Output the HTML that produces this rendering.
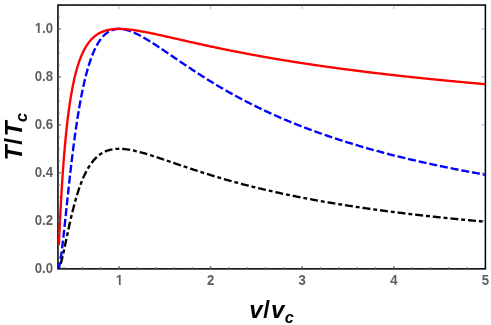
<!DOCTYPE html>
<html><head><meta charset="utf-8"><title>T/Tc vs v/vc</title>
<style>
html,body{margin:0;padding:0;background:#fff;}
body{width:491px;height:325px;overflow:hidden;}
svg{display:block;will-change:transform;}
text{font-family:"Liberation Sans",sans-serif;}
.tl text{font-size:14px;font-weight:bold;fill:#5e5e5e;stroke:#5e5e5e;stroke-width:0px;}
.al text{font-weight:bold;font-style:italic;fill:#000;}
</style></head>
<body>
<svg width="491" height="325" viewBox="0 0 491 325">
<rect x="0" y="0" width="491" height="325" fill="#ffffff"/>
<defs><clipPath id="c1y"><rect x="-20.462" y="-14.000" width="9.680" height="11.672"/><rect x="-16.200" y="-2.528" width="1.932" height="3.328"/><rect x="-10.782" y="-14.000" width="12.782" height="18.000"/></clipPath><clipPath id="c1x"><rect x="-4.893" y="-14.000" width="9.680" height="11.672"/><rect x="-0.631" y="-2.528" width="1.932" height="3.328"/></clipPath><clipPath id="plot"><rect x="57.90" y="4.65" width="427.10" height="263.92"/></clipPath></defs>
<rect x="57.95" y="5.05" width="427.45" height="263.82" fill="none" stroke="#000000" stroke-width="1.52"/>
<g clip-path="url(#plot)" fill="none" stroke-width="2.35" stroke-linejoin="round">
<path d="M57.93 268.73 L58.74 268.20 L59.27 267.35 L59.70 266.44 L60.06 265.51 L60.39 264.57 L60.70 263.61 L60.98 262.65 L61.26 261.69 L61.52 260.72 L61.77 259.75 L62.02 258.78 L62.26 257.81 L62.49 256.83 L62.72 255.86 L62.95 254.88 L63.17 253.91 L63.39 252.93 L63.61 251.95 L63.82 250.97 L64.04 249.99 L64.25 249.02 L64.46 248.04 L64.67 247.06 L64.88 246.08 L65.08 245.10 L65.29 244.12 L65.50 243.14 L65.71 242.16 L65.91 241.18 L66.12 240.20 L66.32 239.22 L66.53 238.23 L66.74 237.25 L66.94 236.27 L67.15 235.29 L67.36 234.31 L67.56 233.33 L67.77 232.35 L67.98 231.37 L68.19 230.40 L68.40 229.42 L68.62 228.44 L68.83 227.46 L69.04 226.48 L69.26 225.50 L69.47 224.52 L69.69 223.55 L69.91 222.57 L70.13 221.59 L70.35 220.61 L70.58 219.64 L70.80 218.66 L71.03 217.69 L71.26 216.71 L71.49 215.73 L71.72 214.76 L71.95 213.79 L72.19 212.81 L72.43 211.84 L72.67 210.87 L72.91 209.90 L73.16 208.92 L73.41 207.95 L73.66 206.98 L73.91 206.02 L74.17 205.05 L74.43 204.08 L74.69 203.11 L74.95 202.15 L75.22 201.18 L75.49 200.22 L75.77 199.25 L76.05 198.29 L76.33 197.33 L76.61 196.37 L76.90 195.41 L77.20 194.45 L77.49 193.50 L77.80 192.54 L78.10 191.59 L78.42 190.64 L78.73 189.68 L79.05 188.74 L79.38 187.79 L79.71 186.84 L80.05 185.90 L80.39 184.96 L80.74 184.02 L81.09 183.08 L81.46 182.15 L81.83 181.22 L82.20 180.29 L82.58 179.36 L82.97 178.44 L83.37 177.52 L83.78 176.61 L84.19 175.69 L84.62 174.79 L85.05 173.88 L85.49 172.98 L85.94 172.09 L86.41 171.20 L86.88 170.32 L87.37 169.44 L87.86 168.57 L88.37 167.71 L88.89 166.86 L89.43 166.01 L89.98 165.17 L90.54 164.34 L91.12 163.52 L91.71 162.72 L92.32 161.92 L92.95 161.14 L93.59 160.37 L94.25 159.62 L94.93 158.88 L95.63 158.16 L96.35 157.46 L97.08 156.78 L97.84 156.12 L98.61 155.49 L99.40 154.88 L100.21 154.29 L101.04 153.73 L101.89 153.20 L102.76 152.70 L103.64 152.22 L104.54 151.78 L105.46 151.37 L106.38 150.99 L107.32 150.65 L108.27 150.33 L109.24 150.05 L110.21 149.80 L111.18 149.58 L112.17 149.39 L113.16 149.23 L114.15 149.10 L115.14 148.99 L116.14 148.91 L117.14 148.86 L118.14 148.83 L119.15 148.82 L120.15 148.83 L121.15 148.87 L122.15 148.92 L123.15 148.99 L124.15 149.08 L125.14 149.18 L126.14 149.30 L127.13 149.44 L128.12 149.58 L129.11 149.74 L130.10 149.91 L131.08 150.09 L132.07 150.28 L133.05 150.48 L134.03 150.69 L135.01 150.91 L135.98 151.14 L136.96 151.37 L137.93 151.61 L138.90 151.86 L139.87 152.11 L140.84 152.37 L141.80 152.63 L142.77 152.90 L143.73 153.17 L144.69 153.45 L145.65 153.73 L146.61 154.02 L147.57 154.31 L148.53 154.60 L149.49 154.90 L150.45 155.20 L151.40 155.50 L152.36 155.80 L153.31 156.11 L154.26 156.41 L155.22 156.72 L156.17 157.04 L157.12 157.35 L158.07 157.66 L159.02 157.98 L159.97 158.30 L160.92 158.61 L161.87 158.93 L162.82 159.25 L163.77 159.57 L164.72 159.90 L165.67 160.22 L166.61 160.54 L167.56 160.86 L168.51 161.19 L169.46 161.51 L170.41 161.84 L171.35 162.16 L172.30 162.48 L173.25 162.81 L174.20 163.13 L175.15 163.45 L176.09 163.78 L177.04 164.10 L177.99 164.42 L178.94 164.75 L179.89 165.07 L180.84 165.39 L181.79 165.71 L182.73 166.03 L183.68 166.35 L184.63 166.67 L185.58 166.99 L186.53 167.31 L187.48 167.63 L188.43 167.94 L189.38 168.26 L190.33 168.58 L191.29 168.89 L192.24 169.20 L193.19 169.52 L194.14 169.83 L195.09 170.14 L196.05 170.45 L197.00 170.76 L197.95 171.07 L198.90 171.37 L199.86 171.68 L200.81 171.99 L201.77 172.29 L202.72 172.59 L203.68 172.90 L204.63 173.20 L205.59 173.50 L206.54 173.80 L207.50 174.09 L208.46 174.39 L209.41 174.69 L210.37 174.98 L211.33 175.28 L212.29 175.57 L213.25 175.86 L214.20 176.15 L215.16 176.44 L216.12 176.73 L217.08 177.01 L218.04 177.30 L219.00 177.58 L219.96 177.87 L220.93 178.15 L221.89 178.43 L222.85 178.71 L223.81 178.99 L224.77 179.26 L225.74 179.54 L226.70 179.81 L227.66 180.09 L228.63 180.36 L229.59 180.63 L230.56 180.90 L231.52 181.17 L232.49 181.44 L233.45 181.71 L234.42 181.97 L235.39 182.24 L236.35 182.50 L237.32 182.76 L238.29 183.02 L239.25 183.28 L240.22 183.54 L241.19 183.80 L242.16 184.05 L243.13 184.31 L244.10 184.56 L245.07 184.81 L246.04 185.06 L247.01 185.31 L247.98 185.56 L248.95 185.81 L249.92 186.06 L250.89 186.30 L251.86 186.55 L252.83 186.79 L253.80 187.03 L254.78 187.27 L255.75 187.51 L256.72 187.75 L257.70 187.99 L258.67 188.22 L259.64 188.46 L260.62 188.69 L261.59 188.93 L262.57 189.16 L263.54 189.39 L264.52 189.62 L265.49 189.85 L266.47 190.08 L267.44 190.30 L268.42 190.53 L269.39 190.75 L270.37 190.98 L271.35 191.20 L272.32 191.42 L273.30 191.64 L274.28 191.86 L275.26 192.08 L276.24 192.29 L277.21 192.51 L278.19 192.72 L279.17 192.94 L280.15 193.15 L281.13 193.36 L282.11 193.57 L283.09 193.78 L284.07 193.99 L285.05 194.20 L286.03 194.41 L287.01 194.61 L287.99 194.82 L288.97 195.02 L289.95 195.22 L290.93 195.42 L291.91 195.63 L292.89 195.83 L293.88 196.02 L294.86 196.22 L295.84 196.42 L296.82 196.62 L297.81 196.81 L298.79 197.01 L299.77 197.20 L300.75 197.39 L301.74 197.58 L302.72 197.77 L303.70 197.96 L304.69 198.15 L305.67 198.34 L306.66 198.53 L307.64 198.71 L308.62 198.90 L309.61 199.08 L310.59 199.27 L311.58 199.45 L312.56 199.63 L313.55 199.81 L314.54 199.99 L315.52 200.17 L316.51 200.35 L317.49 200.53 L318.48 200.71 L319.46 200.88 L320.45 201.06 L321.44 201.23 L322.42 201.40 L323.41 201.58 L324.40 201.75 L325.38 201.92 L326.37 202.09 L327.36 202.26 L328.35 202.43 L329.33 202.60 L330.32 202.76 L331.31 202.93 L332.30 203.10 L333.29 203.26 L334.27 203.43 L335.26 203.59 L336.25 203.75 L337.24 203.91 L338.23 204.08 L339.22 204.24 L340.21 204.40 L341.19 204.55 L342.18 204.71 L343.17 204.87 L344.16 205.03 L345.15 205.18 L346.14 205.34 L347.13 205.49 L348.12 205.65 L349.11 205.80 L350.10 205.95 L351.09 206.11 L352.08 206.26 L353.07 206.41 L354.06 206.56 L355.05 206.71 L356.04 206.86 L357.03 207.00 L358.03 207.15 L359.02 207.30 L360.01 207.44 L361.00 207.59 L361.99 207.73 L362.98 207.88 L363.97 208.02 L364.96 208.16 L365.96 208.31 L366.95 208.45 L367.94 208.59 L368.93 208.73 L369.92 208.87 L370.91 209.01 L371.91 209.15 L372.90 209.29 L373.89 209.42 L374.88 209.56 L375.88 209.70 L376.87 209.83 L377.86 209.97 L378.85 210.10 L379.85 210.23 L380.84 210.37 L381.83 210.50 L382.83 210.63 L383.82 210.76 L384.81 210.89 L385.81 211.02 L386.80 211.15 L387.79 211.28 L388.79 211.41 L389.78 211.54 L390.77 211.67 L391.77 211.80 L392.76 211.92 L393.75 212.05 L394.75 212.17 L395.74 212.30 L396.74 212.42 L397.73 212.55 L398.72 212.67 L399.72 212.79 L400.71 212.92 L401.71 213.04 L402.70 213.16 L403.70 213.28 L404.69 213.40 L405.68 213.52 L406.68 213.64 L407.67 213.76 L408.67 213.88 L409.66 214.00 L410.66 214.11 L411.65 214.23 L412.65 214.35 L413.64 214.46 L414.64 214.58 L415.63 214.69 L416.63 214.81 L417.62 214.92 L418.62 215.04 L419.61 215.15 L420.61 215.26 L421.60 215.37 L422.60 215.49 L423.60 215.60 L424.59 215.71 L425.59 215.82 L426.58 215.93 L427.58 216.04 L428.57 216.15 L429.57 216.26 L430.57 216.37 L431.56 216.47 L432.56 216.58 L433.55 216.69 L434.55 216.79 L435.55 216.90 L436.54 217.01 L437.54 217.11 L438.53 217.22 L439.53 217.32 L440.53 217.43 L441.52 217.53 L442.52 217.63 L443.52 217.74 L444.51 217.84 L445.51 217.94 L446.51 218.04 L447.50 218.14 L448.50 218.24 L449.50 218.35 L450.49 218.45 L451.49 218.55 L452.49 218.64 L453.48 218.74 L454.48 218.84 L455.48 218.94 L456.47 219.04 L457.47 219.14 L458.47 219.23 L459.46 219.33 L460.46 219.43 L461.46 219.52 L462.46 219.62 L463.45 219.71 L464.45 219.81 L465.45 219.90 L466.45 220.00 L467.44 220.09 L468.44 220.19 L469.44 220.28 L470.43 220.37 L471.43 220.46 L472.43 220.56 L473.43 220.65 L474.42 220.74 L475.42 220.83 L476.42 220.92 L477.42 221.01 L478.42 221.10 L479.41 221.19 L480.41 221.28 L481.41 221.37 L482.41 221.46 L483.40 221.55 L484.40 221.64 L485.40 221.73" stroke="#000000" stroke-linecap="square" stroke-dasharray="1.55 5.285 5.585 5.285" stroke-dashoffset="0"/>
<path d="M57.93 268.73 L58.59 268.03 L58.95 267.09 L59.23 266.13 L59.47 265.16 L59.69 264.18 L59.89 263.19 L60.08 262.21 L60.25 261.22 L60.42 260.23 L60.58 259.24 L60.73 258.25 L60.88 257.25 L61.03 256.26 L61.17 255.27 L61.31 254.27 L61.44 253.28 L61.57 252.28 L61.70 251.29 L61.83 250.29 L61.96 249.30 L62.08 248.30 L62.21 247.31 L62.33 246.31 L62.45 245.31 L62.57 244.32 L62.68 243.32 L62.80 242.32 L62.91 241.33 L63.03 240.33 L63.14 239.33 L63.25 238.34 L63.37 237.34 L63.48 236.34 L63.59 235.34 L63.70 234.35 L63.81 233.35 L63.92 232.35 L64.03 231.35 L64.13 230.36 L64.24 229.36 L64.35 228.36 L64.46 227.36 L64.56 226.36 L64.67 225.37 L64.78 224.37 L64.88 223.37 L64.99 222.37 L65.09 221.38 L65.20 220.38 L65.31 219.38 L65.41 218.38 L65.52 217.38 L65.62 216.39 L65.73 215.39 L65.83 214.39 L65.94 213.39 L66.04 212.39 L66.15 211.40 L66.25 210.40 L66.35 209.40 L66.46 208.40 L66.56 207.40 L66.67 206.40 L66.77 205.41 L66.88 204.41 L66.99 203.41 L67.09 202.41 L67.20 201.41 L67.30 200.42 L67.41 199.42 L67.51 198.42 L67.62 197.42 L67.73 196.43 L67.83 195.43 L67.94 194.43 L68.05 193.43 L68.15 192.43 L68.26 191.44 L68.37 190.44 L68.48 189.44 L68.58 188.44 L68.69 187.45 L68.80 186.45 L68.91 185.45 L69.02 184.45 L69.13 183.45 L69.24 182.46 L69.35 181.46 L69.46 180.46 L69.57 179.47 L69.68 178.47 L69.79 177.47 L69.90 176.47 L70.02 175.48 L70.13 174.48 L70.24 173.48 L70.35 172.48 L70.47 171.49 L70.58 170.49 L70.70 169.49 L70.81 168.50 L70.93 167.50 L71.04 166.50 L71.16 165.51 L71.28 164.51 L71.40 163.51 L71.51 162.52 L71.63 161.52 L71.75 160.52 L71.87 159.53 L71.99 158.53 L72.11 157.53 L72.23 156.54 L72.36 155.54 L72.48 154.55 L72.60 153.55 L72.73 152.55 L72.85 151.56 L72.98 150.56 L73.10 149.57 L73.23 148.57 L73.36 147.58 L73.48 146.58 L73.61 145.59 L73.74 144.59 L73.87 143.60 L74.00 142.60 L74.13 141.61 L74.27 140.61 L74.40 139.62 L74.53 138.62 L74.67 137.63 L74.81 136.63 L74.94 135.64 L75.08 134.64 L75.22 133.65 L75.36 132.66 L75.50 131.66 L75.64 130.67 L75.78 129.68 L75.92 128.68 L76.07 127.69 L76.21 126.70 L76.36 125.70 L76.51 124.71 L76.66 123.72 L76.81 122.73 L76.96 121.73 L77.11 120.74 L77.26 119.75 L77.42 118.76 L77.57 117.77 L77.73 116.78 L77.89 115.79 L78.05 114.80 L78.21 113.80 L78.37 112.81 L78.53 111.82 L78.70 110.83 L78.87 109.84 L79.03 108.86 L79.20 107.87 L79.37 106.88 L79.55 105.89 L79.72 104.90 L79.90 103.91 L80.07 102.92 L80.25 101.94 L80.43 100.95 L80.62 99.96 L80.80 98.98 L80.99 97.99 L81.18 97.01 L81.37 96.02 L81.56 95.04 L81.76 94.05 L81.95 93.07 L82.15 92.08 L82.35 91.10 L82.56 90.12 L82.76 89.14 L82.97 88.15 L83.18 87.17 L83.40 86.19 L83.61 85.21 L83.83 84.23 L84.06 83.25 L84.28 82.28 L84.51 81.30 L84.74 80.32 L84.97 79.35 L85.21 78.37 L85.45 77.40 L85.70 76.42 L85.94 75.45 L86.19 74.48 L86.45 73.51 L86.71 72.54 L86.97 71.57 L87.24 70.60 L87.51 69.64 L87.79 68.67 L88.07 67.71 L88.35 66.75 L88.64 65.79 L88.94 64.83 L89.24 63.87 L89.55 62.92 L89.86 61.96 L90.18 61.01 L90.50 60.06 L90.83 59.11 L91.17 58.17 L91.52 57.23 L91.87 56.29 L92.23 55.35 L92.60 54.42 L92.98 53.49 L93.36 52.56 L93.76 51.64 L94.16 50.72 L94.57 49.80 L95.00 48.90 L95.44 47.99 L95.88 47.09 L96.34 46.20 L96.82 45.32 L97.30 44.44 L97.81 43.57 L98.32 42.71 L98.85 41.86 L99.40 41.02 L99.97 40.19 L100.56 39.38 L101.16 38.58 L101.79 37.79 L102.44 37.03 L103.11 36.28 L103.80 35.55 L104.52 34.85 L105.26 34.18 L106.03 33.53 L106.82 32.92 L107.64 32.34 L108.49 31.80 L109.36 31.30 L110.25 30.84 L111.17 30.43 L112.10 30.07 L113.06 29.76 L114.03 29.49 L115.01 29.28 L116.00 29.12 L116.99 29.00 L117.99 28.93 L119.00 28.91" stroke="#0000ff" stroke-linecap="square" stroke-dasharray="5.585 5.285" stroke-dashoffset="-0.300"/>
<path d="M119.07 28.91 L120.07 28.94 L121.07 29.00 L122.06 29.10 L123.05 29.24 L124.04 29.41 L125.02 29.61 L126.00 29.84 L126.96 30.09 L127.93 30.37 L128.88 30.67 L129.83 30.99 L130.77 31.33 L131.71 31.69 L132.63 32.06 L133.56 32.45 L134.47 32.85 L135.39 33.26 L136.29 33.69 L137.19 34.12 L138.09 34.57 L138.98 35.03 L139.87 35.49 L140.75 35.96 L141.63 36.44 L142.51 36.92 L143.38 37.42 L144.25 37.91 L145.11 38.42 L145.97 38.93 L146.83 39.44 L147.69 39.96 L148.54 40.48 L149.39 41.01 L150.24 41.53 L151.09 42.07 L151.94 42.60 L152.78 43.14 L153.62 43.68 L154.46 44.23 L155.30 44.77 L156.14 45.32 L156.98 45.87 L157.81 46.42 L158.64 46.98 L159.48 47.53 L160.31 48.09 L161.14 48.65 L161.97 49.21 L162.80 49.76 L163.63 50.33 L164.46 50.89 L165.29 51.45 L166.11 52.01 L166.94 52.58 L167.77 53.14 L168.60 53.70 L169.42 54.27 L170.25 54.83 L171.08 55.40 L171.90 55.96 L172.73 56.53 L173.55 57.09 L174.38 57.66 L175.21 58.22 L176.03 58.78 L176.86 59.35 L177.69 59.91 L178.52 60.48 L179.34 61.04 L180.17 61.60 L181.00 62.16 L181.83 62.72 L182.66 63.28 L183.49 63.84 L184.32 64.40 L185.15 64.96 L185.98 65.52 L186.81 66.08 L187.64 66.63 L188.48 67.19 L189.31 67.74 L190.14 68.29 L190.98 68.85 L191.81 69.40 L192.65 69.95 L193.49 70.50 L194.32 71.05 L195.16 71.59 L196.00 72.14 L196.84 72.69 L197.68 73.23 L198.52 73.77 L199.36 74.31 L200.21 74.85 L201.05 75.39 L201.89 75.93 L202.74 76.47 L203.58 77.00 L204.43 77.54 L205.28 78.07 L206.13 78.60 L206.98 79.13 L207.83 79.66 L208.68 80.19 L209.53 80.71 L210.38 81.24 L211.23 81.76 L212.09 82.28 L212.94 82.80 L213.80 83.32 L214.66 83.84 L215.51 84.36 L216.37 84.87 L217.23 85.38 L218.09 85.89 L218.95 86.40 L219.82 86.91 L220.68 87.42 L221.54 87.93 L222.41 88.43 L223.27 88.93 L224.14 89.43 L225.01 89.93 L225.88 90.43 L226.75 90.92 L227.62 91.42 L228.49 91.91 L229.36 92.40 L230.23 92.89 L231.11 93.38 L231.98 93.87 L232.86 94.35 L233.73 94.84 L234.61 95.32 L235.49 95.80 L236.37 96.27 L237.25 96.75 L238.13 97.23 L239.01 97.70 L239.89 98.17 L240.78 98.64 L241.66 99.11 L242.55 99.58 L243.43 100.04 L244.32 100.51 L245.21 100.97 L246.10 101.43 L246.99 101.89 L247.88 102.34 L248.77 102.80 L249.66 103.25 L250.55 103.71 L251.45 104.16 L252.34 104.60 L253.24 105.05 L254.14 105.50 L255.03 105.94 L255.93 106.38 L256.83 106.82 L257.73 107.26 L258.63 107.70 L259.53 108.14 L260.43 108.57 L261.33 109.00 L262.24 109.43 L263.14 109.86 L264.05 110.29 L264.95 110.71 L265.86 111.14 L266.77 111.56 L267.68 111.98 L268.58 112.40 L269.49 112.82 L270.40 113.24 L271.32 113.65 L272.23 114.06 L273.14 114.47 L274.05 114.88 L274.97 115.29 L275.88 115.70 L276.80 116.10 L277.71 116.51 L278.63 116.91 L279.55 117.31 L280.47 117.71 L281.39 118.10 L282.30 118.50 L283.22 118.89 L284.15 119.29 L285.07 119.68 L285.99 120.06 L286.91 120.45 L287.84 120.84 L288.76 121.22 L289.68 121.61 L290.61 121.99 L291.54 122.37 L292.46 122.75 L293.39 123.12 L294.32 123.50 L295.25 123.87 L296.18 124.24 L297.11 124.61 L298.04 124.98 L298.97 125.35 L299.90 125.72 L300.83 126.08 L301.76 126.45 L302.70 126.81 L303.63 127.17 L304.56 127.53 L305.50 127.89 L306.43 128.24 L307.37 128.60 L308.31 128.95 L309.24 129.30 L310.18 129.65 L311.12 130.00 L312.06 130.35 L313.00 130.69 L313.94 131.04 L314.88 131.38 L315.82 131.72 L316.76 132.06 L317.70 132.40 L318.64 132.74 L319.59 133.08 L320.53 133.41 L321.47 133.75 L322.42 134.08 L323.36 134.41 L324.31 134.74 L325.25 135.07 L326.20 135.39 L327.15 135.72 L328.09 136.04 L329.04 136.37 L329.99 136.69 L330.94 137.01 L331.89 137.33 L332.83 137.64 L333.78 137.96 L334.73 138.28 L335.69 138.59 L336.64 138.90 L337.59 139.21 L338.54 139.52 L339.49 139.83 L340.44 140.14 L341.40 140.44 L342.35 140.75 L343.30 141.05 L344.26 141.36 L345.21 141.66 L346.17 141.96 L347.12 142.26 L348.08 142.55 L349.03 142.85 L349.99 143.14 L350.95 143.44 L351.91 143.73 L352.86 144.02 L353.82 144.31 L354.78 144.60 L355.74 144.89 L356.70 145.18 L357.66 145.46 L358.62 145.75 L359.58 146.03 L360.54 146.31 L361.50 146.59 L362.46 146.87 L363.42 147.15 L364.38 147.43 L365.34 147.71 L366.30 147.98 L367.27 148.26 L368.23 148.53 L369.19 148.80 L370.16 149.07 L371.12 149.34 L372.08 149.61 L373.05 149.88 L374.01 150.15 L374.98 150.41 L375.94 150.68 L376.91 150.94 L377.88 151.21 L378.84 151.47 L379.81 151.73 L380.77 151.99 L381.74 152.25 L382.71 152.50 L383.68 152.76 L384.64 153.01 L385.61 153.27 L386.58 153.52 L387.55 153.77 L388.52 154.03 L389.49 154.28 L390.46 154.53 L391.43 154.77 L392.40 155.02 L393.37 155.27 L394.34 155.51 L395.31 155.76 L396.28 156.00 L397.25 156.25 L398.22 156.49 L399.19 156.73 L400.16 156.97 L401.14 157.21 L402.11 157.44 L403.08 157.68 L404.05 157.92 L405.03 158.15 L406.00 158.39 L406.97 158.62 L407.95 158.85 L408.92 159.08 L409.89 159.32 L410.87 159.55 L411.84 159.77 L412.82 160.00 L413.79 160.23 L414.77 160.46 L415.74 160.68 L416.72 160.91 L417.69 161.13 L418.67 161.35 L419.64 161.57 L420.62 161.80 L421.60 162.02 L422.57 162.24 L423.55 162.45 L424.53 162.67 L425.50 162.89 L426.48 163.11 L427.46 163.32 L428.44 163.54 L429.42 163.75 L430.39 163.96 L431.37 164.17 L432.35 164.39 L433.33 164.60 L434.31 164.81 L435.29 165.02 L436.26 165.22 L437.24 165.43 L438.22 165.64 L439.20 165.84 L440.18 166.05 L441.16 166.25 L442.14 166.46 L443.12 166.66 L444.10 166.86 L445.08 167.06 L446.06 167.26 L447.04 167.46 L448.03 167.66 L449.01 167.86 L449.99 168.06 L450.97 168.26 L451.95 168.45 L452.93 168.65 L453.91 168.84 L454.90 169.04 L455.88 169.23 L456.86 169.42 L457.84 169.62 L458.83 169.81 L459.81 170.00 L460.79 170.19 L461.77 170.38 L462.76 170.57 L463.74 170.75 L464.72 170.94 L465.71 171.13 L466.69 171.31 L467.67 171.50 L468.66 171.68 L469.64 171.87 L470.63 172.05 L471.61 172.23 L472.59 172.41 L473.58 172.60 L474.56 172.78 L475.55 172.96 L476.53 173.14 L477.52 173.31 L478.50 173.49 L479.49 173.67 L480.47 173.85 L481.46 174.02 L482.44 174.20 L483.43 174.37 L484.41 174.55 L485.40 174.72" stroke="#0000ff" stroke-linecap="square" stroke-dasharray="5.585 5.285" stroke-dashoffset="5.395"/>
<path d="M58.88 245.12 L58.92 244.13 L58.96 243.13 L59.01 242.13 L59.05 241.13 L59.09 240.13 L59.14 239.13 L59.18 238.13 L59.23 237.13 L59.27 236.13 L59.31 235.13 L59.36 234.13 L59.41 233.14 L59.45 232.14 L59.50 231.14 L59.54 230.14 L59.59 229.14 L59.64 228.14 L59.68 227.14 L59.73 226.14 L59.78 225.14 L59.83 224.14 L59.88 223.15 L59.92 222.15 L59.97 221.15 L60.02 220.15 L60.07 219.15 L60.12 218.15 L60.17 217.15 L60.22 216.15 L60.27 215.16 L60.32 214.16 L60.38 213.16 L60.43 212.16 L60.48 211.16 L60.53 210.16 L60.58 209.16 L60.64 208.16 L60.69 207.17 L60.75 206.17 L60.80 205.17 L60.85 204.17 L60.91 203.17 L60.96 202.17 L61.02 201.17 L61.08 200.18 L61.13 199.18 L61.19 198.18 L61.25 197.18 L61.31 196.18 L61.36 195.18 L61.42 194.19 L61.48 193.19 L61.54 192.19 L61.60 191.19 L61.66 190.19 L61.72 189.19 L61.78 188.20 L61.84 187.20 L61.91 186.20 L61.97 185.20 L62.03 184.20 L62.10 183.21 L62.16 182.21 L62.23 181.21 L62.29 180.21 L62.36 179.21 L62.42 178.22 L62.49 177.22 L62.56 176.22 L62.62 175.22 L62.69 174.23 L62.76 173.23 L62.83 172.23 L62.90 171.23 L62.97 170.24 L63.04 169.24 L63.12 168.24 L63.19 167.24 L63.26 166.25 L63.34 165.25 L63.41 164.25 L63.49 163.25 L63.56 162.26 L63.64 161.26 L63.72 160.26 L63.79 159.27 L63.87 158.27 L63.95 157.27 L64.03 156.27 L64.11 155.28 L64.19 154.28 L64.28 153.28 L64.36 152.29 L64.44 151.29 L64.53 150.29 L64.61 149.30 L64.70 148.30 L64.79 147.31 L64.88 146.31 L64.97 145.31 L65.06 144.32 L65.15 143.32 L65.24 142.33 L65.33 141.33 L65.42 140.33 L65.52 139.34 L65.61 138.34 L65.71 137.35 L65.81 136.35 L65.91 135.36 L66.01 134.36 L66.11 133.37 L66.21 132.37 L66.31 131.38 L66.42 130.38 L66.52 129.39 L66.63 128.39 L66.74 127.40 L66.85 126.41 L66.96 125.41 L67.07 124.42 L67.18 123.43 L67.30 122.43 L67.41 121.44 L67.53 120.45 L67.65 119.45 L67.77 118.46 L67.89 117.47 L68.02 116.47 L68.14 115.48 L68.27 114.49 L68.40 113.50 L68.53 112.51 L68.66 111.52 L68.79 110.52 L68.92 109.53 L69.06 108.54 L69.20 107.55 L69.34 106.56 L69.48 105.57 L69.63 104.58 L69.77 103.59 L69.92 102.60 L70.07 101.62 L70.23 100.63 L70.38 99.64 L70.54 98.65 L70.70 97.67 L70.86 96.68 L71.03 95.69 L71.20 94.71 L71.37 93.72 L71.54 92.74 L71.71 91.75 L71.89 90.77 L72.07 89.78 L72.26 88.80 L72.45 87.82 L72.64 86.84 L72.83 85.86 L73.03 84.88 L73.23 83.90 L73.44 82.92 L73.64 81.94 L73.86 80.96 L74.07 79.99 L74.29 79.01 L74.52 78.04 L74.75 77.06 L74.98 76.09 L75.22 75.12 L75.46 74.15 L75.71 73.18 L75.96 72.21 L76.22 71.25 L76.49 70.28 L76.75 69.32 L77.03 68.36 L77.31 67.40 L77.60 66.44 L77.90 65.48 L78.20 64.53 L78.51 63.58 L78.82 62.63 L79.15 61.69 L79.48 60.74 L79.82 59.80 L80.17 58.86 L80.53 57.93 L80.90 57.00 L81.27 56.08 L81.66 55.15 L82.06 54.24 L82.47 53.32 L82.89 52.42 L83.33 51.52 L83.77 50.62 L84.23 49.73 L84.70 48.85 L85.19 47.98 L85.69 47.11 L86.21 46.26 L86.75 45.41 L87.30 44.58 L87.87 43.76 L88.45 42.95 L89.06 42.15 L89.68 41.37 L90.32 40.60 L90.98 39.85 L91.66 39.12 L92.37 38.41 L93.09 37.72 L93.83 37.05 L94.59 36.40 L95.38 35.78 L96.18 35.18 L97.00 34.61 L97.84 34.07 L98.70 33.55 L99.57 33.07 L100.46 32.61 L101.37 32.19 L102.29 31.79 L103.22 31.42 L104.16 31.08 L105.11 30.77 L106.07 30.49 L107.03 30.23 L108.01 30.00 L108.98 29.80 L109.97 29.61 L110.96 29.46 L111.95 29.32 L112.94 29.21 L113.94 29.11 L114.93 29.04 L115.93 28.98 L116.93 28.94 L117.93 28.93 L118.93 28.91 L119.93 28.92 L120.93 28.94 L121.93 28.97 L122.93 29.01 L123.93 29.07 L124.93 29.14 L125.92 29.21 L126.92 29.30 L127.91 29.39 L128.91 29.50 L129.90 29.61 L130.90 29.72 L131.89 29.85 L132.88 29.98 L133.87 30.12 L134.86 30.26 L135.85 30.41 L136.84 30.57 L137.82 30.72 L138.81 30.89 L139.80 31.06 L140.78 31.23 L141.77 31.40 L142.75 31.58 L143.73 31.76 L144.72 31.95 L145.70 32.14 L146.68 32.33 L147.66 32.52 L148.64 32.72 L149.62 32.92 L150.60 33.12 L151.58 33.32 L152.56 33.52 L153.54 33.73 L154.52 33.93 L155.50 34.14 L156.47 34.35 L157.45 34.57 L158.43 34.78 L159.40 34.99 L160.38 35.21 L161.36 35.42 L162.33 35.64 L163.31 35.86 L164.29 36.07 L165.26 36.29 L166.24 36.51 L167.21 36.73 L168.19 36.95 L169.16 37.17 L170.14 37.39 L171.12 37.61 L172.09 37.83 L173.07 38.06 L174.04 38.28 L175.02 38.50 L175.99 38.72 L176.97 38.94 L177.94 39.16 L178.92 39.39 L179.89 39.61 L180.87 39.83 L181.84 40.05 L182.82 40.27 L183.79 40.49 L184.77 40.72 L185.74 40.94 L186.72 41.16 L187.69 41.38 L188.67 41.60 L189.65 41.82 L190.62 42.03 L191.60 42.25 L192.57 42.47 L193.55 42.69 L194.53 42.91 L195.50 43.13 L196.48 43.34 L197.45 43.56 L198.43 43.77 L199.41 43.99 L200.38 44.20 L201.36 44.42 L202.34 44.63 L203.31 44.85 L204.29 45.06 L205.27 45.27 L206.25 45.48 L207.22 45.69 L208.20 45.90 L209.18 46.11 L210.16 46.32 L211.13 46.53 L212.11 46.74 L213.09 46.95 L214.07 47.16 L215.05 47.36 L216.03 47.57 L217.01 47.77 L217.98 47.98 L218.96 48.18 L219.94 48.39 L220.92 48.59 L221.90 48.79 L222.88 48.99 L223.86 49.19 L224.84 49.39 L225.82 49.59 L226.80 49.79 L227.78 49.99 L228.76 50.19 L229.74 50.38 L230.72 50.58 L231.70 50.78 L232.68 50.97 L233.66 51.16 L234.65 51.36 L235.63 51.55 L236.61 51.74 L237.59 51.94 L238.57 52.13 L239.55 52.32 L240.54 52.51 L241.52 52.70 L242.50 52.88 L243.48 53.07 L244.46 53.26 L245.45 53.44 L246.43 53.63 L247.41 53.82 L248.39 54.00 L249.38 54.18 L250.36 54.37 L251.34 54.55 L252.33 54.73 L253.31 54.91 L254.29 55.09 L255.28 55.27 L256.26 55.45 L257.25 55.63 L258.23 55.81 L259.21 55.99 L260.20 56.16 L261.18 56.34 L262.17 56.52 L263.15 56.69 L264.14 56.86 L265.12 57.04 L266.11 57.21 L267.09 57.38 L268.08 57.56 L269.06 57.73 L270.05 57.90 L271.03 58.07 L272.02 58.24 L273.00 58.40 L273.99 58.57 L274.98 58.74 L275.96 58.91 L276.95 59.07 L277.93 59.24 L278.92 59.40 L279.91 59.57 L280.89 59.73 L281.88 59.90 L282.87 60.06 L283.85 60.22 L284.84 60.38 L285.83 60.54 L286.82 60.70 L287.80 60.86 L288.79 61.02 L289.78 61.18 L290.76 61.34 L291.75 61.50 L292.74 61.65 L293.73 61.81 L294.72 61.97 L295.70 62.12 L296.69 62.28 L297.68 62.43 L298.67 62.59 L299.66 62.74 L300.64 62.89 L301.63 63.04 L302.62 63.19 L303.61 63.35 L304.60 63.50 L305.59 63.65 L306.58 63.80 L307.56 63.94 L308.55 64.09 L309.54 64.24 L310.53 64.39 L311.52 64.53 L312.51 64.68 L313.50 64.83 L314.49 64.97 L315.48 65.12 L316.47 65.26 L317.46 65.41 L318.45 65.55 L319.44 65.69 L320.43 65.83 L321.42 65.98 L322.41 66.12 L323.40 66.26 L324.39 66.40 L325.38 66.54 L326.37 66.68 L327.36 66.82 L328.35 66.95 L329.34 67.09 L330.33 67.23 L331.32 67.37 L332.31 67.50 L333.30 67.64 L334.29 67.78 L335.28 67.91 L336.27 68.05 L337.27 68.18 L338.26 68.31 L339.25 68.45 L340.24 68.58 L341.23 68.71 L342.22 68.84 L343.21 68.98 L344.20 69.11 L345.20 69.24 L346.19 69.37 L347.18 69.50 L348.17 69.63 L349.16 69.76 L350.15 69.88 L351.15 70.01 L352.14 70.14 L353.13 70.27 L354.12 70.39 L355.11 70.52 L356.11 70.65 L357.10 70.77 L358.09 70.90 L359.08 71.02 L360.07 71.15 L361.07 71.27 L362.06 71.39 L363.05 71.52 L364.04 71.64 L365.04 71.76 L366.03 71.89 L367.02 72.01 L368.01 72.13 L369.01 72.25 L370.00 72.37 L370.99 72.49 L371.99 72.61 L372.98 72.73 L373.97 72.85 L374.96 72.97 L375.96 73.08 L376.95 73.20 L377.94 73.32 L378.94 73.44 L379.93 73.55 L380.92 73.67 L381.92 73.79 L382.91 73.90 L383.90 74.02 L384.90 74.13 L385.89 74.25 L386.88 74.36 L387.88 74.47 L388.87 74.59 L389.86 74.70 L390.86 74.81 L391.85 74.93 L392.85 75.04 L393.84 75.15 L394.83 75.26 L395.83 75.37 L396.82 75.48 L397.81 75.59 L398.81 75.70 L399.80 75.81 L400.80 75.92 L401.79 76.03 L402.79 76.14 L403.78 76.25 L404.77 76.36 L405.77 76.46 L406.76 76.57 L407.76 76.68 L408.75 76.78 L409.75 76.89 L410.74 77.00 L411.73 77.10 L412.73 77.21 L413.72 77.31 L414.72 77.42 L415.71 77.52 L416.71 77.63 L417.70 77.73 L418.70 77.84 L419.69 77.94 L420.69 78.04 L421.68 78.14 L422.67 78.25 L423.67 78.35 L424.66 78.45 L425.66 78.55 L426.65 78.65 L427.65 78.75 L428.64 78.85 L429.64 78.96 L430.63 79.06 L431.63 79.16 L432.62 79.25 L433.62 79.35 L434.61 79.45 L435.61 79.55 L436.61 79.65 L437.60 79.75 L438.60 79.85 L439.59 79.94 L440.59 80.04 L441.58 80.14 L442.58 80.23 L443.57 80.33 L444.57 80.43 L445.56 80.52 L446.56 80.62 L447.55 80.71 L448.55 80.81 L449.55 80.90 L450.54 81.00 L451.54 81.09 L452.53 81.19 L453.53 81.28 L454.52 81.37 L455.52 81.47 L456.51 81.56 L457.51 81.65 L458.51 81.75 L459.50 81.84 L460.50 81.93 L461.49 82.02 L462.49 82.11 L463.49 82.20 L464.48 82.30 L465.48 82.39 L466.47 82.48 L467.47 82.57 L468.46 82.66 L469.46 82.75 L470.46 82.84 L471.45 82.93 L472.45 83.01 L473.45 83.10 L474.44 83.19 L475.44 83.28 L476.43 83.37 L477.43 83.46 L478.43 83.54 L479.42 83.63 L480.42 83.72 L481.41 83.81 L482.41 83.89 L483.41 83.98 L484.40 84.06 L485.40 84.15" stroke="#ff0000"/>
</g>
<g stroke="#666666" stroke-width="1.4">
<line x1="57.95" y1="256.74" x2="59.61" y2="256.74"/>
<line x1="57.95" y1="244.75" x2="59.61" y2="244.75"/>
<line x1="57.95" y1="232.76" x2="59.61" y2="232.76"/>
<line x1="57.95" y1="220.77" x2="60.81" y2="220.77"/>
<line x1="57.95" y1="208.78" x2="59.61" y2="208.78"/>
<line x1="57.95" y1="196.78" x2="59.61" y2="196.78"/>
<line x1="57.95" y1="184.79" x2="59.61" y2="184.79"/>
<line x1="57.95" y1="172.80" x2="60.81" y2="172.80"/>
<line x1="57.95" y1="160.81" x2="59.61" y2="160.81"/>
<line x1="57.95" y1="148.82" x2="59.61" y2="148.82"/>
<line x1="57.95" y1="136.83" x2="59.61" y2="136.83"/>
<line x1="57.95" y1="124.84" x2="60.81" y2="124.84"/>
<line x1="57.95" y1="112.85" x2="59.61" y2="112.85"/>
<line x1="57.95" y1="100.86" x2="59.61" y2="100.86"/>
<line x1="57.95" y1="88.87" x2="59.61" y2="88.87"/>
<line x1="57.95" y1="76.88" x2="60.81" y2="76.88"/>
<line x1="57.95" y1="64.88" x2="59.61" y2="64.88"/>
<line x1="57.95" y1="52.89" x2="59.61" y2="52.89"/>
<line x1="57.95" y1="40.90" x2="59.61" y2="40.90"/>
<line x1="57.95" y1="28.91" x2="60.81" y2="28.91"/>
<line x1="57.95" y1="16.92" x2="59.61" y2="16.92"/>
<line x1="64.04" y1="268.87" x2="64.04" y2="267.21"/>
<line x1="82.36" y1="268.87" x2="82.36" y2="267.21"/>
<line x1="100.68" y1="268.87" x2="100.68" y2="267.21"/>
<line x1="119.00" y1="268.87" x2="119.00" y2="266.01"/>
<line x1="137.32" y1="268.87" x2="137.32" y2="267.21"/>
<line x1="155.64" y1="268.87" x2="155.64" y2="267.21"/>
<line x1="173.96" y1="268.87" x2="173.96" y2="267.21"/>
<line x1="192.28" y1="268.87" x2="192.28" y2="267.21"/>
<line x1="210.60" y1="268.87" x2="210.60" y2="266.01"/>
<line x1="228.92" y1="268.87" x2="228.92" y2="267.21"/>
<line x1="247.24" y1="268.87" x2="247.24" y2="267.21"/>
<line x1="265.56" y1="268.87" x2="265.56" y2="267.21"/>
<line x1="283.88" y1="268.87" x2="283.88" y2="267.21"/>
<line x1="302.20" y1="268.87" x2="302.20" y2="266.01"/>
<line x1="320.52" y1="268.87" x2="320.52" y2="267.21"/>
<line x1="338.84" y1="268.87" x2="338.84" y2="267.21"/>
<line x1="357.16" y1="268.87" x2="357.16" y2="267.21"/>
<line x1="375.48" y1="268.87" x2="375.48" y2="267.21"/>
<line x1="393.80" y1="268.87" x2="393.80" y2="266.01"/>
<line x1="412.12" y1="268.87" x2="412.12" y2="267.21"/>
<line x1="430.44" y1="268.87" x2="430.44" y2="267.21"/>
<line x1="448.76" y1="268.87" x2="448.76" y2="267.21"/>
<line x1="467.08" y1="268.87" x2="467.08" y2="267.21"/>
</g>
<g stroke="#666666" stroke-width="0.45">
<line x1="485.40" y1="256.74" x2="483.74" y2="256.74"/>
<line x1="485.40" y1="244.75" x2="483.74" y2="244.75"/>
<line x1="485.40" y1="232.76" x2="483.74" y2="232.76"/>
<line x1="485.40" y1="220.77" x2="481.24" y2="220.77"/>
<line x1="485.40" y1="208.78" x2="483.74" y2="208.78"/>
<line x1="485.40" y1="196.78" x2="483.74" y2="196.78"/>
<line x1="485.40" y1="184.79" x2="483.74" y2="184.79"/>
<line x1="485.40" y1="172.80" x2="481.24" y2="172.80"/>
<line x1="485.40" y1="160.81" x2="483.74" y2="160.81"/>
<line x1="485.40" y1="148.82" x2="483.74" y2="148.82"/>
<line x1="485.40" y1="136.83" x2="483.74" y2="136.83"/>
<line x1="485.40" y1="124.84" x2="481.24" y2="124.84"/>
<line x1="485.40" y1="112.85" x2="483.74" y2="112.85"/>
<line x1="485.40" y1="100.86" x2="483.74" y2="100.86"/>
<line x1="485.40" y1="88.87" x2="483.74" y2="88.87"/>
<line x1="485.40" y1="76.88" x2="481.24" y2="76.88"/>
<line x1="485.40" y1="64.88" x2="483.74" y2="64.88"/>
<line x1="485.40" y1="52.89" x2="483.74" y2="52.89"/>
<line x1="485.40" y1="40.90" x2="483.74" y2="40.90"/>
<line x1="485.40" y1="28.91" x2="481.24" y2="28.91"/>
<line x1="485.40" y1="16.92" x2="483.74" y2="16.92"/>
<line x1="64.04" y1="5.05" x2="64.04" y2="6.71"/>
<line x1="82.36" y1="5.05" x2="82.36" y2="6.71"/>
<line x1="100.68" y1="5.05" x2="100.68" y2="6.71"/>
<line x1="119.00" y1="5.05" x2="119.00" y2="9.11"/>
<line x1="137.32" y1="5.05" x2="137.32" y2="6.71"/>
<line x1="155.64" y1="5.05" x2="155.64" y2="6.71"/>
<line x1="173.96" y1="5.05" x2="173.96" y2="6.71"/>
<line x1="192.28" y1="5.05" x2="192.28" y2="6.71"/>
<line x1="210.60" y1="5.05" x2="210.60" y2="9.11"/>
<line x1="228.92" y1="5.05" x2="228.92" y2="6.71"/>
<line x1="247.24" y1="5.05" x2="247.24" y2="6.71"/>
<line x1="265.56" y1="5.05" x2="265.56" y2="6.71"/>
<line x1="283.88" y1="5.05" x2="283.88" y2="6.71"/>
<line x1="302.20" y1="5.05" x2="302.20" y2="9.11"/>
<line x1="320.52" y1="5.05" x2="320.52" y2="6.71"/>
<line x1="338.84" y1="5.05" x2="338.84" y2="6.71"/>
<line x1="357.16" y1="5.05" x2="357.16" y2="6.71"/>
<line x1="375.48" y1="5.05" x2="375.48" y2="6.71"/>
<line x1="393.80" y1="5.05" x2="393.80" y2="9.11"/>
<line x1="412.12" y1="5.05" x2="412.12" y2="6.71"/>
<line x1="430.44" y1="5.05" x2="430.44" y2="6.71"/>
<line x1="448.76" y1="5.05" x2="448.76" y2="6.71"/>
<line x1="467.08" y1="5.05" x2="467.08" y2="6.71"/>
</g>
<g class="tl"><text transform="translate(53.10 272.83) scale(0.943 1)" text-anchor="end">0.0</text><text transform="translate(53.10 224.87) scale(0.943 1)" text-anchor="end">0.2</text><text transform="translate(53.10 176.90) scale(0.943 1)" text-anchor="end">0.4</text><text transform="translate(53.10 128.94) scale(0.943 1)" text-anchor="end">0.6</text><text transform="translate(53.10 80.98) scale(0.943 1)" text-anchor="end">0.8</text><text transform="translate(53.10 33.01) scale(0.943 1)" text-anchor="end" clip-path="url(#c1y)">1.0</text><text transform="translate(119.50 285.20) scale(0.943 1)" text-anchor="middle" clip-path="url(#c1x)">1</text><text transform="translate(210.60 285.20) scale(0.943 1)" text-anchor="middle">2</text><text transform="translate(302.20 285.20) scale(0.943 1)" text-anchor="middle">3</text><text transform="translate(393.80 285.20) scale(0.943 1)" text-anchor="middle">4</text><text transform="translate(485.40 285.20) scale(0.943 1)" text-anchor="middle">5</text></g>
<g class="al" transform="translate(249.2 318.1)"><text font-size="24" x="0" y="0">v</text><text font-size="24" style="font-style:normal" x="14.0" y="0">/</text><text font-size="24" x="21.9" y="0">v</text><text font-size="16.2" x="35.57" y="4.5">c</text></g>
<g class="al" transform="translate(22.4 160.5) rotate(-90)"><text font-size="24.5" x="0" y="0">T</text><text font-size="24.5" style="font-style:normal" x="15.76" y="0">/</text><text font-size="24.5" x="24.0" y="0">T</text><text font-size="16.2" x="38.6" y="4.6">c</text></g>
</svg>
</body></html>
